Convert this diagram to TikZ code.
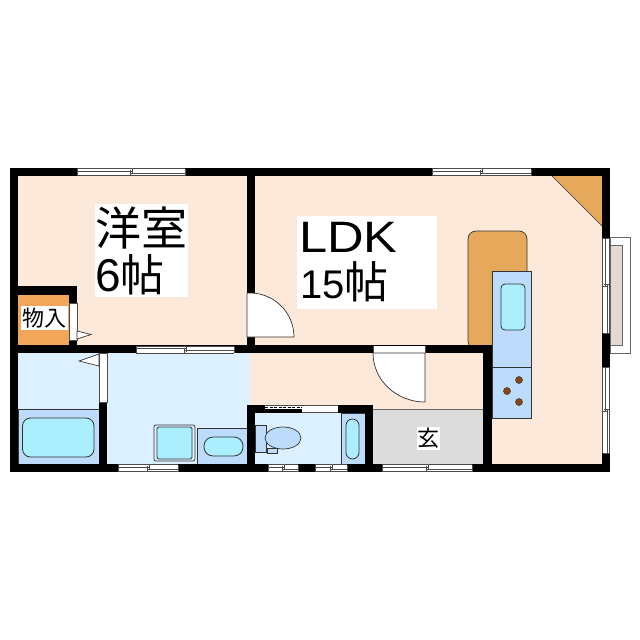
\documentclass[tikz,border=0pt]{standalone}
\usepackage{fontspec}
\setmainfont{Liberation Sans}
\newfontfamily\jpfont{Noto Sans CJK JP}
\newfontfamily\widefont[FakeStretch=1.15]{Liberation Sans}
\definecolor{floorpeach}{HTML}{FDE9D9}
\definecolor{washblue}{HTML}{DDF0FF}
\definecolor{fixblue}{HTML}{BDDCFB}
\definecolor{bowlcyan}{HTML}{ABEFFF}
\definecolor{woodorange}{HTML}{E6A85A}
\definecolor{closetorange}{HTML}{F2A65A}
\definecolor{entrygray}{HTML}{DCDCDC}
\definecolor{balconybeige}{HTML}{E2DAD2}
\definecolor{burnerbrown}{HTML}{8B4513}
\tikzstyle{wall} = [fill=black]
\tikzstyle{opening} = [fill=white]
\tikzstyle{fixture} = [fill=fixblue, draw=black!80, line width=0.7pt]
\tikzstyle{basin} = [fill=bowlcyan, draw=black!80, line width=0.8pt]
\tikzstyle{wood} = [fill=woodorange, draw=black!80, line width=0.7pt]
\tikzstyle{doorleaf} = [fill=white, draw=black!80, line width=0.7pt]
\tikzstyle{sash} = [draw=black!70, line width=0.7pt]
\tikzstyle{roomlabel} = [fill=white, align=left, inner sep=1pt, inner xsep=0pt, font=\fontsize{46}{46}\selectfont]
\tikzstyle{smalllabel} = [fill=white, inner sep=0pt, font=\jpfont\fontsize{22}{22}\selectfont]
% horizontal window: x1, x2, top y
\newcommand{\hwin}[3]{
  \fill[opening] (#1,#3) rectangle (#2,#3+8);
  \draw[sash] (#1,#3+0.5) -- (#2,#3+0.5);
  \draw[sash] (#1,#3+7.5) -- (#2,#3+7.5);
  \draw[sash] (#1,#3+3) -- ({(#1+#2)/2+1},#3+3);
  \draw[sash] ({(#1+#2)/2-1},#3+5) -- (#2,#3+5);
  \draw[sash] (#1,#3+0.5) -- (#1,#3+7.5);
  \draw[sash] (#2,#3+0.5) -- (#2,#3+7.5);
  \draw[sash] ({(#1+#2)/2-1},#3+2) -- ({(#1+#2)/2-1},#3+7);
  \draw[sash] ({(#1+#2)/2+1},#3+1) -- ({(#1+#2)/2+1},#3+6);
}
% vertical window: y1, y2, left x
\newcommand{\vwin}[3]{
  \fill[opening] (#3,#1) rectangle (#3+8,#2);
  \draw[sash] (#3+0.5,#1) -- (#3+0.5,#2);
  \draw[sash] (#3+7.5,#1) -- (#3+7.5,#2);
  \draw[sash] (#3+3,#1) -- (#3+3,{(#1+#2)/2+1});
  \draw[sash] (#3+5,{(#1+#2)/2-1}) -- (#3+5,#2);
  \draw[sash] (#3+0.5,#1) -- (#3+7.5,#1);
  \draw[sash] (#3+0.5,#2) -- (#3+7.5,#2);
  \draw[sash] (#3+2,{(#1+#2)/2-1}) -- (#3+7,{(#1+#2)/2-1});
  \draw[sash] (#3+1,{(#1+#2)/2+1}) -- (#3+6,{(#1+#2)/2+1});
}

\begin{document}
\begin{tikzpicture}[x=1pt, y=-1pt]

  \useasboundingbox (0,0) rectangle (640,640);
  \fill[white] (0,0) rectangle (640,640);

  % floors
  \fill[floorpeach] (10,168) rectangle (610,472);
  \fill[washblue] (18,353) rectangle (250,464);
  \fill[washblue] (255,413) rectangle (365,464);
  \fill[closetorange] (18,295) rectangle (69,345);
  \fill[entrygray] (373,409) rectangle (483,464);
  \draw[black!60, line width=0.6pt] (373,409) -- (483,409);
  \fill[woodorange] (552,176) -- (602,176) -- (602,226) -- cycle;
  \draw[black!80, line width=0.7pt] (552,176) -- (602,226);

  % balcony
  \draw[black!60, fill=white, line width=0.8pt] (610,237) rectangle (630,353);
  \draw[black!60, fill=balconybeige, line width=0.8pt] (610,245) rectangle (622,345);

  % kitchen
  \draw[wood, rounded corners=8pt] (468,231) rectangle (527,349);
  \draw[fixture] (492,271) rectangle (531,367);
  \draw[fixture] (492,367) rectangle (531,418);
  \draw[basin, rounded corners=4pt] (501,284) rectangle (525,330);
  \foreach \bx/\by in {519/380, 507/391, 519/402}
    \draw[fill=burnerbrown, draw=black!80, line width=0.5pt] (\bx,\by) circle (3.5);

  % bath and wash room
  \draw[fixture] (18,409) rectangle (99,464);
  \draw[basin, rounded corners=8pt] (22.5,418) rectangle (94,457);
  \draw[fixture, fill=washblue, rounded corners=2pt] (154,425) rectangle (195,461);
  \draw[basin, rounded corners=1.5pt] (157,427) rectangle (192,459);
  \draw[fixture] (197,428) rectangle (247,464);
  \draw[basin, rounded corners=9pt] (204,437) rectangle (243,456);

  % toilet room
  \draw[fixture] (341,413) rectangle (365,464);
  \draw[basin, rounded corners=6.5pt] (346,419) rectangle (359,459);
  \draw[fixture] (255,425) rectangle (266,452);
  \draw[fixture] (267,448) rectangle (277,453);
  \draw[fixture] (283,438) ellipse (18 and 11);

  % walls
  \fill[wall] (10,168) rectangle (610,176);
  \fill[wall] (10,464) rectangle (610,472);
  \fill[wall] (10,168) rectangle (18,472);
  \fill[wall] (602,168) rectangle (610,472);
  \fill[wall] (247,168) rectangle (255,353);
  \fill[wall] (10,345) rectangle (492,353);
  \fill[wall] (483,345) rectangle (492,472);
  \fill[wall] (18,286) rectangle (77,295);
  \fill[wall] (69,286) rectangle (77,353);
  \fill[wall] (99,353) rectangle (107,464);
  \fill[wall] (247,405) rectangle (373,413);
  \fill[wall] (247,405) rectangle (255,472);
  \fill[wall] (365,405) rectangle (373,472);

  % windows
  \hwin{77}{185}{168}
  \hwin{432}{531}{168}
  \hwin{136}{234}{345.5}
  \hwin{118}{178}{464}
  \hwin{268}{298}{464}
  \hwin{315}{347}{464}
  \hwin{382}{472}{464}
  \vwin{238}{333}{602}
  \vwin{367}{453}{602}

  % closet, bath door openings
  \draw[opening, draw=black!70, line width=0.6pt] (69,303) rectangle (77,340);
  \draw[doorleaf] (77,331) -- (91,334.5) -- (77,339) -- cycle;
  \draw[opening, draw=black!70, line width=0.6pt] (99,353) rectangle (107,402);
  \draw[doorleaf] (99,354) -- (79,361) -- (99,366) -- cycle;

  % room door
  \fill[opening] (247,293) rectangle (255,337);
  \draw[doorleaf] (250,293) arc (90:0:44pt) -- (247,337) -- (247,293) -- cycle;

  % entrance door
  \fill[opening] (373,345.5) rectangle (425,353);
  \draw[doorleaf] (373,353) -- (425,353) -- (425,402) arc (270:180:52pt and 49pt) -- cycle;
  \draw[black!70, line width=0.6pt] (373,345.5) -- (373,353) (425,345.5) -- (425,353);

  % toilet room top opening
  \fill[opening] (265,405.5) rectangle (338,412);
  \fill[wall] (265,409) rectangle (302,412);
  \draw[black!70, line width=0.6pt] (265,405.5) -- (338,405.5);
  \draw[black, line width=1pt, dash pattern=on 3pt off 1.5pt] (265,407.5) -- (302,407.5);
  \draw[black!70, line width=0.6pt] (302,412) -- (338,412);

  % labels
  \node (room6) [roomlabel, text width=93pt, minimum height=93pt] at (141.5,250.5)
    {{\jpfont 洋室}\\6{\jpfont\fontsize{44}{46}\selectfont 帖}};
  \node (ldk) [roomlabel, text width=140pt, minimum height=93pt] at (367,262.5)
    {\hspace*{2pt}{\widefont\fontsize{44}{46}\selectfont LDK}\\\hspace*{3pt}{\fontsize{40}{46}\selectfont 15}{\jpfont\fontsize{44}{46}\selectfont 帖}};
  \node (closet) [smalllabel, minimum width=47pt, minimum height=24pt] at (44.5,318) {物入};
  \node (entry) [smalllabel, minimum width=23pt, minimum height=23pt] at (428.5,438.5) {玄};

\end{tikzpicture}
\end{document}
